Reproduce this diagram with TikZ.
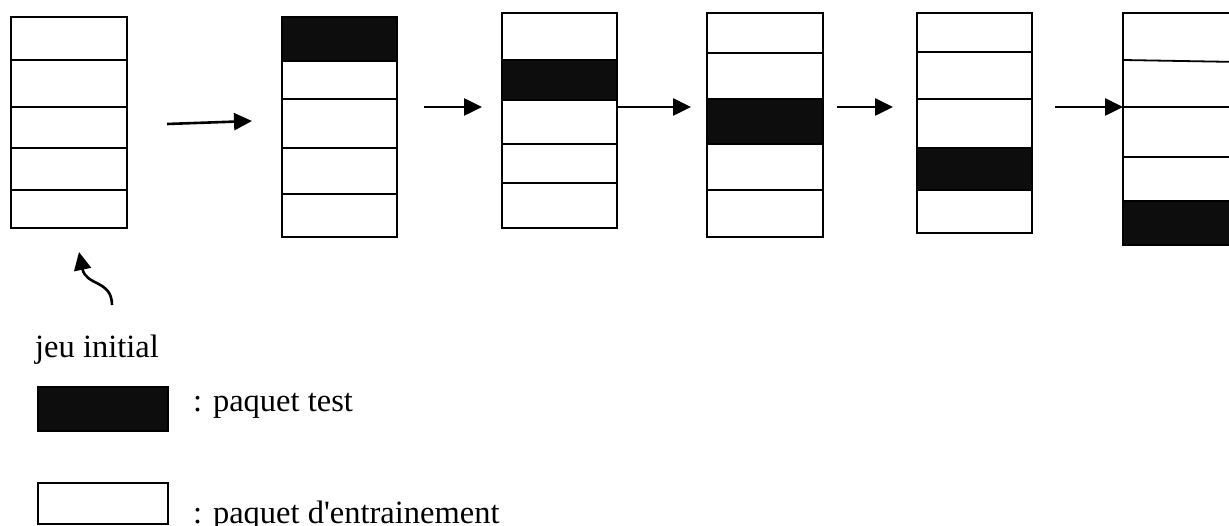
\documentclass[tikz,border=0pt]{standalone}
\usepackage{fontspec}
\setmainfont{Liberation Serif}
\usetikzlibrary{arrows.meta}
\definecolor{testfill}{RGB}{13,13,13}
\tikzset{
  colbox/.style={draw, line width=1.8pt, rectangle, inner sep=0pt, outer sep=0pt, anchor=north west},
  testcell/.style={fill=testfill},
  cellline/.style={line width=1.8pt},
  flow/.style={line width=2.6pt, -{Triangle[length=18pt,width=17pt]}},
  legendtext/.style={font=\fontsize{32.5}{39}\selectfont, anchor=base west, inner sep=0pt},
}
\begin{document}
\begin{tikzpicture}[x=1pt,y=-1pt]
\useasboundingbox (0,0) rectangle (1229,526);
\clip (0,0) rectangle (1229,526);

% test cells (filled first)
\fill[testcell] (282,17) rectangle (397,61);
\fill[testcell] (502,60) rectangle (617,100);
\fill[testcell] (707,99) rectangle (823,144);
\fill[testcell] (917,148) rectangle (1032,190);
\fill[testcell] (1123,201) rectangle (1239,245);

% columns
\node[colbox, minimum width=116pt, minimum height=211pt] (c1) at (11,17) {};
\node[colbox, minimum width=115pt, minimum height=220pt] (c2) at (282,17) {};
\node[colbox, minimum width=115pt, minimum height=215pt] (c3) at (502,13) {};
\node[colbox, minimum width=116pt, minimum height=224pt] (c4) at (707,13) {};
\node[colbox, minimum width=115pt, minimum height=220pt] (c5) at (917,13) {};
\node[colbox, minimum width=116pt, minimum height=232pt] (c6) at (1123,13) {};

% dividers
\foreach \y in {60,107,148,190} \draw[cellline] (11,\y) -- (127,\y);
\foreach \y in {61,99,148,194} \draw[cellline] (282,\y) -- (397,\y);
\foreach \y in {60,100,144,183} \draw[cellline] (502,\y) -- (617,\y);
\foreach \y in {53,99,144,190} \draw[cellline] (707,\y) -- (823,\y);
\foreach \y in {52,99,148,190} \draw[cellline] (917,\y) -- (1032,\y);
\draw[cellline] (1123,60) -- (1239,62);
\foreach \y in {107,157,201} \draw[cellline] (1123,\y) -- (1239,\y);

% arrows
\coordinate (a1s) at (167,124);
\coordinate (a1e) at (252,121);
\coordinate (a2s) at (424,107);
\coordinate (a2e) at (482,107);
\coordinate (a3e) at (691,107);
\coordinate (a4s) at (837,107);
\coordinate (a4e) at (893,107);
\coordinate (a5s) at (1055,107);
\draw[flow] (a1s) -- (a1e);
\draw[flow] (a2s) -- (a2e);
\draw[flow] (c3.east |- a3e) -- (a3e);
\draw[flow] (a4s) -- (a4e);
\draw[flow] (a5s) -- (c6.west |- a5s);

% curved pointer to initial set
\coordinate (ps) at (112,305);
\coordinate (pe) at (79,252);
\draw[flow] (ps) .. controls (112,280) and (86,286) .. (pe);

% legend
\node[legendtext] (lab) at (35,358) {jeu initial};
\node[colbox, fill=testfill, minimum width=130pt, minimum height=44pt] (ltest) at (38,387) {};
\node[legendtext] (ttest) at (193,412) {: paquet test};
\node[colbox, fill=white, minimum width=130pt, minimum height=41pt] (ltrain) at (38,483) {};
\node[legendtext] (ttrain) at (193,523) {: paquet d\textquotesingle entrainement};
\end{tikzpicture}
\end{document}
